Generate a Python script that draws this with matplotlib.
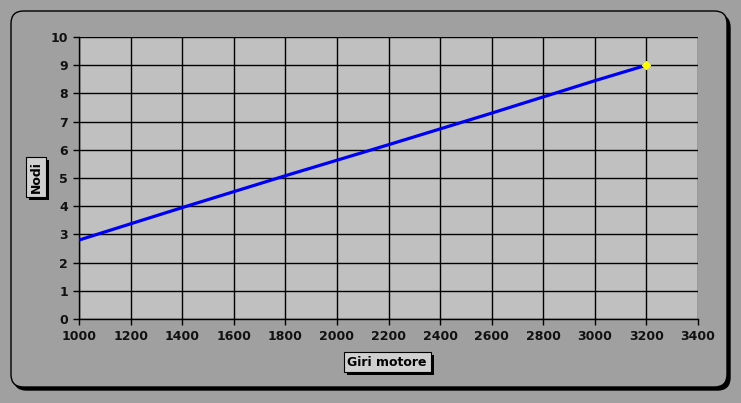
import matplotlib
matplotlib.use("Agg")
import matplotlib.pyplot as plt
from matplotlib.patches import FancyBboxPatch
from matplotlib.ticker import MultipleLocator
import matplotlib.patheffects as pe

giri = [1000, 1400, 1800, 2200, 2600, 3000, 3200]
nodi = [2.8, 3.95, 5.08, 6.18, 7.3, 8.45, 9.0]
x_label = "Giri motore"
y_label = "Nodi"

W, H = 741, 403
fig = plt.figure(figsize=(W / 100, H / 100), dpi=100)
fig.patch.set_facecolor("#A0A0A0")

def fx(px):
    return px / W

def fy(py):
    return 1 - py / H

# chart area with shadow
shadow = FancyBboxPatch((fx(14), fy(390)), fx(716), (389 - 14) / H,
                        boxstyle="round,pad=0,rounding_size=0.017",
                        transform=fig.transFigure, fc="black", ec="black", lw=1,
                        mutation_aspect=W / H, zorder=-3)
fig.patches.append(shadow)
area = FancyBboxPatch((fx(11), fy(387)), fx(716), (387 - 11) / H,
                      boxstyle="round,pad=0,rounding_size=0.017",
                      transform=fig.transFigure, fc="#A0A0A0", ec="black", lw=1,
                      mutation_aspect=W / H, zorder=-2)
fig.patches.append(area)

ax = fig.add_axes([fx(79), fy(319), fx(698 - 79), (319 - 37) / H])
ax.set_zorder(1)
ax.set_facecolor("#C0C0C0")
ax.plot(giri, nodi, color="#0000F0", lw=2.3, solid_capstyle="butt", zorder=3)
ax.plot([giri[-1]], [nodi[-1]], marker="D", ms=4.5, color="#FFFF00",
        mec="#FFFF00", zorder=4, clip_on=False)

ax.set_xlim(1000, 3400)
ax.set_ylim(0, 10)
ax.xaxis.set_major_locator(MultipleLocator(200))
ax.yaxis.set_major_locator(MultipleLocator(1))
ax.grid(True, color="black", lw=1)
ax.set_axisbelow(True)
for s in ["top", "right"]:
    ax.spines[s].set_visible(False)
for s in ["left", "bottom"]:
    ax.spines[s].set_color("black")
    ax.spines[s].set_linewidth(1)
ax.tick_params(direction="out", length=4, width=1, colors="black",
               labelsize=9, pad=4)
for lab in ax.get_xticklabels() + ax.get_yticklabels():
    lab.set_fontweight("bold")
    lab.set_color("#111111")

# axis title boxes with shadow
def boxed(xp, yp, txt, rot):
    t = fig.text(fx(xp), fy(yp), txt, rotation=rot, ha="center", va="center",
                 fontsize=9, fontweight="bold", color="black", zorder=5,
                 bbox=dict(boxstyle="square,pad=0.3", fc="#D0D0D0", ec="black", lw=0.8))
    t.get_bbox_patch().set_path_effects([
        pe.SimplePatchShadow(offset=(2.2, -2.2), shadow_rgbFace="black", alpha=1.0),
        pe.Normal()])

boxed(387, 362, x_label, 0)
boxed(36, 177, y_label, 90)

fig.savefig("out.png", dpi=100, facecolor=fig.get_facecolor())
